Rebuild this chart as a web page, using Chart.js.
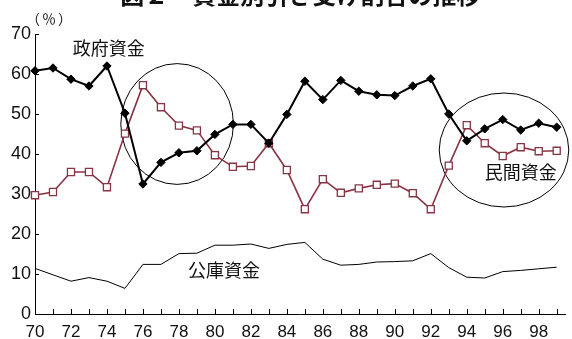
<!DOCTYPE html>
<html>
<head>
<meta charset="utf-8">
<script src="https://cdn.jsdelivr.net/npm/chart.js@4/dist/chart.umd.min.js"></script>
<style>
  html, body { margin: 0; padding: 0; background: #fff; }
  canvas { display: block; }
</style>
</head>
<body>
<canvas id="c" width="572" height="339"></canvas>
<script>
// 年度（19xx年）
const years = [70, 71, 72, 73, 74, 75, 76, 77, 78, 79,
               80, 81, 82, 83, 84, 85, 86, 87, 88, 89,
               90, 91, 92, 93, 94, 95, 96, 97, 98, 99];

// 政府資金の引き受け割合（％）
const govFunds = [60.8, 61.5, 58.7, 57.0, 62.0, 50.2, 32.5, 37.9, 40.3, 40.8,
                  44.9, 47.4, 47.4, 42.7, 49.9, 58.2, 53.6, 58.4, 55.7, 54.8,
                  54.6, 57.0, 58.8, 50.0, 43.3, 46.3, 48.6, 46.0, 47.7, 46.7];

// 民間資金の引き受け割合（％）
const privFunds = [29.7, 30.5, 35.5, 35.5, 31.7, 45.1, 57.2, 51.7, 47.1, 45.9,
                   39.7, 36.8, 37.0, 42.7, 36.0, 26.2, 33.7, 30.3, 31.4, 32.3,
                   32.6, 30.2, 26.2, 37.1, 47.2, 42.7, 39.5, 41.7, 40.7, 40.8];

// 公庫資金の引き受け割合（％）
const publicFunds = [11.4, 9.8, 8.2, 9.1, 8.2, 6.4, 12.4, 12.4, 15.1, 15.2,
                     17.2, 17.2, 17.5, 16.4, 17.4, 17.9, 13.7, 12.2, 12.4, 13.0,
                     13.1, 13.3, 15.1, 11.6, 9.2, 9.0, 10.6, 10.9, 11.3, 11.7];

// 縦軸の目盛
const yTicks = [0, 10, 20, 30, 40, 50, 60, 70];

const seriesNames = ['政府資金', '民間資金', '公庫資金'];
const titleText = '図２　資金別引き受け割合の推移';
const unitText = '（％）';

const JP = '"Noto Sans CJK JP", "Noto Sans", sans-serif';
const NUM = '"Liberation Sans", Arial, sans-serif';
const MAROON = 'rgb(135, 52, 68)';

// 系列名ラベルの位置（年, ％）
const seriesLabelPos = [
  { x: 74.1, y: 66.4 },
  { x: 97.0, y: 35.4 },
  { x: 80.5, y: 11.0 }
];

// 注目区間を囲む楕円（中心・半径を年と％で指定）
const highlightEllipses = [
  { cx: 77.9, cy: 47.5, rx: 3.13, ry: 15.1 },
  { cx: 96.07, cy: 41.0, rx: 3.6, ry: 14.25 }
];

const toPoints = (vals) => vals.map((v, i) => ({ x: years[i], y: v }));

const decor = {
  id: 'decor',
  beforeDatasetsDraw(chart) {
    const { ctx, chartArea } = chart;
    const xs = chart.scales.x, ys = chart.scales.y;
    ctx.save();
    // 内向きの目盛線
    ctx.strokeStyle = '#000';
    ctx.lineWidth = 1;
    ctx.beginPath();
    years.forEach(v => {
      const px = Math.round(xs.getPixelForValue(v)) + 0.5;
      ctx.moveTo(px, chartArea.bottom);
      ctx.lineTo(px, chartArea.bottom - 5);
    });
    yTicks.forEach(v => {
      const py = Math.round(ys.getPixelForValue(v)) + 0.5;
      ctx.moveTo(chartArea.left, py);
      ctx.lineTo(chartArea.left + 4, py);
    });
    ctx.stroke();
    // 楕円
    highlightEllipses.forEach(e => {
      const cx = xs.getPixelForValue(e.cx);
      const cy = ys.getPixelForValue(e.cy);
      const rx = Math.abs(xs.getPixelForValue(e.cx + e.rx) - cx);
      const ry = Math.abs(ys.getPixelForValue(e.cy + e.ry) - cy);
      ctx.beginPath();
      ctx.ellipse(cx, cy, rx, ry, 0, 0, Math.PI * 2);
      ctx.stroke();
    });
    ctx.restore();
  },
  afterDraw(chart) {
    const { ctx, chartArea } = chart;
    const xs = chart.scales.x, ys = chart.scales.y;
    ctx.save();
    ctx.fillStyle = '#111';
    // 表題
    ctx.font = 'bold 24px ' + JP;
    ctx.textAlign = 'center';
    ctx.textBaseline = 'alphabetic';
    ctx.fillText(titleText, (chartArea.left + chartArea.right) / 2, 4);
    // 単位
    ctx.font = '14px ' + JP;
    ctx.textBaseline = 'middle';
    if ('letterSpacing' in ctx) ctx.letterSpacing = '2px';
    ctx.fillText(unitText, chartArea.left + 15, chartArea.top - 15);
    if ('letterSpacing' in ctx) ctx.letterSpacing = '0px';
    // 系列名
    ctx.font = '18px ' + JP;
    seriesNames.forEach((name, i) => {
      const p = seriesLabelPos[i];
      ctx.fillText(name, xs.getPixelForValue(p.x), ys.getPixelForValue(p.y));
    });
    ctx.restore();
  }
};

new Chart(document.getElementById('c'), {
  type: 'line',
  data: {
    datasets: [
      {
        label: seriesNames[0],
        data: toPoints(govFunds),
        borderColor: '#000',
        backgroundColor: '#000',
        borderWidth: 2,
        pointStyle: 'rectRot',
        pointRadius: 4.2,
        pointBorderWidth: 1,
        tension: 0,
        clip: false
      },
      {
        label: seriesNames[1],
        data: toPoints(privFunds),
        borderColor: MAROON,
        backgroundColor: '#fff',
        borderWidth: 1.6,
        pointStyle: 'rect',
        pointRadius: 5,
        pointBorderWidth: 1.3,
        pointBorderColor: MAROON,
        pointBackgroundColor: '#fff',
        tension: 0,
        clip: false
      },
      {
        label: seriesNames[2],
        data: toPoints(publicFunds),
        borderColor: '#000',
        borderWidth: 1,
        pointRadius: 0,
        tension: 0,
        clip: false
      }
    ]
  },
  options: {
    responsive: false,
    devicePixelRatio: 1,
    animation: false,
    events: [],
    layout: { padding: { top: 34, left: 0, right: 3, bottom: 0 } },
    plugins: {
      legend: { display: false },
      title: { display: false },
      tooltip: { enabled: false }
    },
    scales: {
      x: {
        type: 'linear',
        min: 70,
        max: 99.5,
        afterBuildTicks: (s) => { s.ticks = years.map(v => ({ value: v })); },
        afterFit: (s) => { s.height = 25; },
        grid: { display: false, drawTicks: false },
        border: { display: true, color: '#000', width: 1 },
        ticks: {
          autoSkip: false,
          maxRotation: 0,
          padding: 8,
          color: '#111',
          font: { family: NUM, size: 17 },
          callback: (v) => (v % 2 === 0 ? String(v) : '')
        }
      },
      y: {
        min: 0,
        max: 70,
        afterBuildTicks: (s) => { s.ticks = yTicks.map(v => ({ value: v })); },
        afterFit: (s) => { s.width = 35; },
        grid: { display: false, drawTicks: false },
        border: { display: true, color: '#000', width: 1 },
        ticks: {
          padding: 4,
          color: '#111',
          font: { family: NUM, size: 18 }
        }
      }
    }
  },
  plugins: [decor]
});
</script>
</body>
</html>
